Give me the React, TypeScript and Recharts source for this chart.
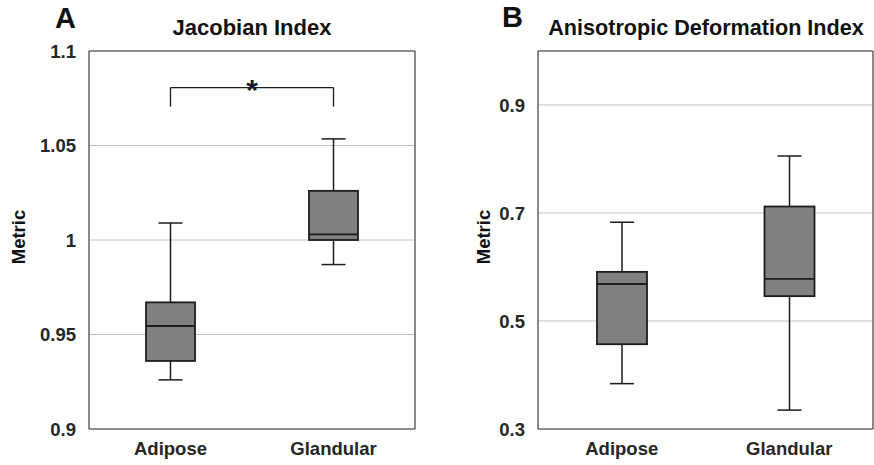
import { ComposedChart, Bar, XAxis, YAxis, CartesianGrid, ReferenceLine } from 'recharts';

const categories = ['Adipose', 'Glandular'];

// Jacobian Index (panel A)
const jacMin = [0.926, 0.987];
const jacQ1 = [0.936, 1.0];
const jacMedian = [0.9545, 1.003];
const jacQ3 = [0.967, 1.026];
const jacMax = [1.009, 1.0535];
const jacTicks = [0.9, 0.95, 1, 1.05, 1.1];
const bracketLow = 1.0705;
const bracketHigh = 1.0806;

// Anisotropic Deformation Index (panel B)
const adiMin = [0.384, 0.335];
const adiQ1 = [0.457, 0.546];
const adiMedian = [0.5685, 0.578];
const adiQ3 = [0.591, 0.712];
const adiMax = [0.683, 0.8055];
const adiTicks = [0.3, 0.5, 0.7, 0.9];
const adiMinorTicks = [0.3, 0.4, 0.5, 0.6, 0.7, 0.8, 0.9, 1.0];

const FONT = '"Liberation Sans", Arial, Helvetica, sans-serif';
const FRAME = '#3c3c3c';
const INK = '#1c1c1c';

function buildRows(mins: number[], q1s: number[], meds: number[], q3s: number[], maxs: number[]) {
  return categories.map((name, i) => ({
    name,
    min: mins[i],
    q1: q1s[i],
    median: meds[i],
    q3: q3s[i],
    max: maxs[i],
  }));
}

const jacRows = buildRows(jacMin, jacQ1, jacMedian, jacQ3, jacMax);
const adiRows = buildRows(adiMin, adiQ1, adiMedian, adiQ3, adiMax);

// draws whiskers + box inside the range bar (min..max) that recharts already scaled
const BoxShape = (props: any) => {
  const { x, y, width, height, payload } = props;
  const top = Math.min(y, y + height);
  const bottom = Math.max(y, y + height);
  const { min, max, q1, q3, median } = payload;
  const py = (v: number) => top + ((max - v) / (max - min)) * (bottom - top);
  const cx = x + width / 2;
  const cap = 12;
  return (
    <g>
      <line x1={cx} x2={cx} y1={py(max)} y2={py(q3)} stroke={INK} strokeWidth={1.5} />
      <line x1={cx} x2={cx} y1={py(q1)} y2={py(min)} stroke={INK} strokeWidth={1.5} />
      <line x1={cx - cap} x2={cx + cap} y1={py(max)} y2={py(max)} stroke={INK} strokeWidth={1.5} />
      <line x1={cx - cap} x2={cx + cap} y1={py(min)} y2={py(min)} stroke={INK} strokeWidth={1.5} />
      <rect x={x} y={py(q3)} width={width} height={py(q1) - py(q3)} fill="#808080" stroke={INK} strokeWidth={1.8} />
      <line x1={x} x2={x + width} y1={py(median)} y2={py(median)} stroke={INK} strokeWidth={1.8} />
    </g>
  );
};

type PanelProps = {
  rows: any[];
  domain: [number, number];
  ticks: number[];
  rightTicks: number[];
  width: number;
  yAxisWidth: number;
  marginRight: number;
  barSize: number;
  bracket?: boolean;
};

function BoxPanel({ rows, domain, ticks, rightTicks, width, yAxisWidth, marginRight, barSize, bracket }: PanelProps) {
  const tickStyle = { fontSize: 18.5, fontWeight: 700, fill: '#262626', fontFamily: FONT };
  return (
    <ComposedChart
      width={width}
      height={465}
      data={rows}
      margin={{ top: 51, right: marginRight, bottom: 0, left: 0 }}
    >
      <CartesianGrid xAxisId="main" yAxisId="left" vertical={false} stroke="#c2c2c2" strokeWidth={1} />
      <XAxis
        xAxisId="main"
        dataKey="name"
        height={36}
        tickLine={false}
        tickSize={0}
        tickMargin={13}
        axisLine={{ stroke: FRAME, strokeWidth: 1.2 }}
        tick={tickStyle}
      />
      <XAxis xAxisId="bm" dataKey="name" mirror tick={false} tickSize={5} axisLine={false} tickLine={{ stroke: FRAME }} />
      <XAxis
        xAxisId="top"
        dataKey="name"
        orientation="top"
        mirror
        tick={false}
        tickSize={5}
        axisLine={{ stroke: FRAME, strokeWidth: 1.2 }}
        tickLine={{ stroke: FRAME }}
      />
      <YAxis
        yAxisId="left"
        type="number"
        domain={domain}
        ticks={ticks}
        width={yAxisWidth}
        tickLine={false}
        tickSize={0}
        tickMargin={13}
        tickFormatter={(v: number) => String(v)}
        axisLine={{ stroke: FRAME, strokeWidth: 1.2 }}
        tick={tickStyle}
        allowDataOverflow
      />
      <YAxis
        yAxisId="right"
        orientation="right"
        type="number"
        domain={domain}
        ticks={rightTicks}
        mirror
        tick={false}
        tickSize={5}
        axisLine={{ stroke: FRAME, strokeWidth: 1.2 }}
        tickLine={{ stroke: FRAME }}
        allowDataOverflow
      />
      <Bar
        xAxisId="main"
        yAxisId="left"
        dataKey={(d: any) => [d.min, d.max]}
        barSize={barSize}
        shape={BoxShape}
        isAnimationActive={false}
      />
      {bracket && (
        <ReferenceLine
          xAxisId="main"
          yAxisId="left"
          segment={[
            { x: categories[0], y: bracketLow },
            { x: categories[0], y: bracketHigh },
          ]}
          stroke={INK}
          strokeWidth={1.3}
        />
      )}
      {bracket && (
        <ReferenceLine
          xAxisId="main"
          yAxisId="left"
          segment={[
            { x: categories[1], y: bracketLow },
            { x: categories[1], y: bracketHigh },
          ]}
          stroke={INK}
          strokeWidth={1.3}
        />
      )}
      {bracket && (
        <ReferenceLine
          xAxisId="main"
          yAxisId="left"
          segment={[
            { x: categories[0], y: bracketHigh },
            { x: categories[1], y: bracketHigh },
          ]}
          stroke={INK}
          strokeWidth={1.3}
          label={{ value: '*', position: 'top', offset: -12, fontSize: 30, fontWeight: 700, fill: INK, fontFamily: FONT }}
        />
      )}
    </ComposedChart>
  );
}

export default function App() {
  return (
    <div
      style={{
        position: 'absolute',
        left: 0,
        top: 0,
        width: 874,
        height: 465,
        background: '#fff',
        fontFamily: FONT,
      }}
    >
      <div style={{ position: 'absolute', left: 0, top: 0 }}>
        <BoxPanel
          rows={jacRows}
          domain={[0.9, 1.1]}
          ticks={jacTicks}
          rightTicks={jacTicks}
          width={437}
          yAxisWidth={89}
          marginRight={22}
          barSize={49}
          bracket
        />
      </div>
      <div style={{ position: 'absolute', left: 437, top: 0 }}>
        <BoxPanel
          rows={adiRows}
          domain={[0.3, 1.0]}
          ticks={adiTicks}
          rightTicks={adiMinorTicks}
          width={437}
          yAxisWidth={101}
          marginRight={1}
          barSize={50}
        />
      </div>
      <svg
        width={874}
        height={465}
        style={{ position: 'absolute', left: 0, top: 0, pointerEvents: 'none' }}
        fontFamily={FONT}
        fontWeight={700}
        fill="#111"
      >
        <text x={55} y={28} fontSize={29}>A</text>
        <text x={502} y={27} fontSize={29}>B</text>
        <text x={252} y={35} fontSize={22} textAnchor="middle">Jacobian Index</text>
        <text x={706} y={35} fontSize={21.6} textAnchor="middle">Anisotropic Deformation Index</text>
        <text x={25} y={237} fontSize={18.5} textAnchor="middle" transform="rotate(-90 25 237)">Metric</text>
        <text x={490} y={237} fontSize={18.5} textAnchor="middle" transform="rotate(-90 490 237)">Metric</text>
      </svg>
    </div>
  );
}
